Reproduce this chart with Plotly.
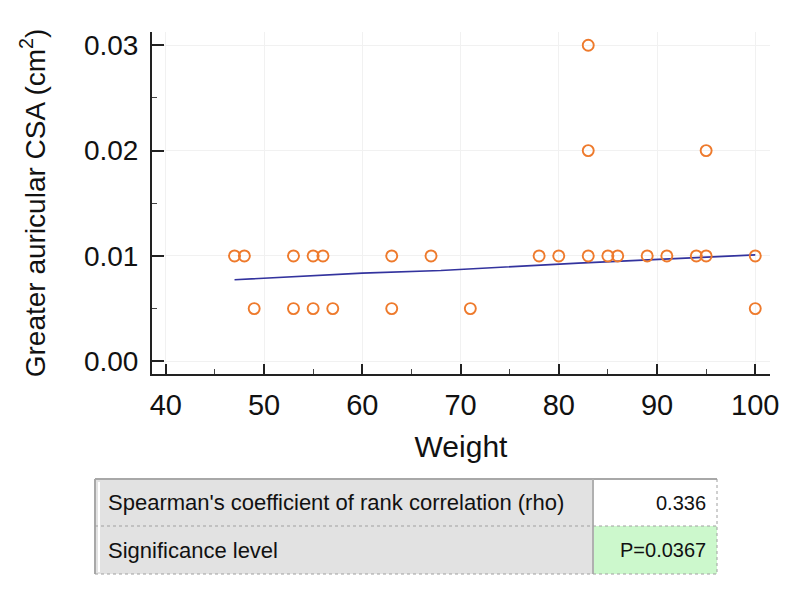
import plotly.graph_objects as go

# ---- data ----
weight_01 = [47, 48, 53, 55, 56, 63, 67, 78, 80, 85, 86, 89, 91, 94, 95, 100, 83]
csa_01 = [0.01] * 17
weight_005 = [49, 53, 55, 57, 63, 71, 100]
csa_005 = [0.005] * 7
weight_hi = [83, 83, 95]
csa_hi = [0.03, 0.02, 0.02]

weights = weight_01 + weight_005 + weight_hi
csa = csa_01 + csa_005 + csa_hi

trend_x = [47, 60, 68, 82, 100]
trend_y = [0.00774, 0.00837, 0.00861, 0.00932, 0.0101]

table_labels = ["Spearman's coefficient of rank correlation (rho)", "Significance level"]
table_values = ["0.336", "P=0.0367"]

FONT = "Liberation Sans, Arial, sans-serif"
W, H = 799, 591
OFF = 8  # page body margin
ML, MR, MT, MB = 152 - OFF, 29 + OFF, 32 - OFF, 217 + OFF
PW, PH = W - ML - MR, H - MT - MB


def px_x(p):
    return (p - OFF - ML) / PW


def px_y(p):
    return (H - MB - (p - OFF)) / PH


fig = go.Figure()
fig.add_trace(go.Scatter(
    x=trend_x, y=trend_y, mode="lines",
    line=dict(color="#33339e", width=1.6), showlegend=False, hoverinfo="skip"))
fig.add_trace(go.Scatter(
    x=weights, y=csa, mode="markers",
    marker=dict(symbol="circle-open", size=11, color="#ee7a2c",
                line=dict(width=1.9, color="#ee7a2c")),
    showlegend=False))

# ---- table below the chart ----
tx0, tx1, tcol = 95, 717, 593
ty0, ymid, ty1 = 479, 526, 574
shapes = []
grey = "#e2e2e2"
shapes.append(dict(type="rect", xref="paper", yref="paper",
                   x0=px_x(tx0), x1=px_x(tcol), y0=px_y(ty1), y1=px_y(ty0),
                   fillcolor=grey, line=dict(width=0), layer="below"))
shapes.append(dict(type="rect", xref="paper", yref="paper",
                   x0=px_x(tcol), x1=px_x(tx1), y0=px_y(ymid), y1=px_y(ty0),
                   fillcolor="#ffffff", line=dict(width=0), layer="below"))
shapes.append(dict(type="rect", xref="paper", yref="paper",
                   x0=px_x(tcol), x1=px_x(tx1), y0=px_y(ty1), y1=px_y(ymid),
                   fillcolor="#ccf8cc", line=dict(width=0), layer="below"))
# white inner left strip
shapes.append(dict(type="line", xref="paper", yref="paper",
                   x0=px_x(99), x1=px_x(99), y0=px_y(ty1 - 2), y1=px_y(ty0 + 3),
                   line=dict(color="#ffffff", width=2)))
# solid top and left borders
shapes.append(dict(type="line", xref="paper", yref="paper",
                   x0=px_x(tx0), x1=px_x(tx1), y0=px_y(ty0), y1=px_y(ty0),
                   line=dict(color="#a8a8a8", width=2)))
shapes.append(dict(type="line", xref="paper", yref="paper",
                   x0=px_x(tx0), x1=px_x(tx0), y0=px_y(ty0), y1=px_y(ty1),
                   line=dict(color="#a8a8a8", width=2)))
# column divider
shapes.append(dict(type="line", xref="paper", yref="paper",
                   x0=px_x(tcol), x1=px_x(tcol), y0=px_y(ty0), y1=px_y(ty1),
                   line=dict(color="#b0b0b0", width=2)))
# dotted borders
for (a, b, c, d) in [(tx0, ymid, tx1, ymid), (tx0, ty1, tx1, ty1), (tx1, ty0, tx1, ty1)]:
    shapes.append(dict(type="line", xref="paper", yref="paper",
                       x0=px_x(a), x1=px_x(c), y0=px_y(b), y1=px_y(d),
                       line=dict(color="#a0a0a0", width=1, dash="dot")))

annotations = []
row_centers = [(ty0 + ymid) / 2, (ymid + ty1) / 2]
for lab, val, rc in zip(table_labels, table_values, row_centers):
    annotations.append(dict(xref="paper", yref="paper", x=px_x(106), y=px_y(rc),
                            text=lab, showarrow=False, xanchor="left", yanchor="middle",
                            font=dict(family=FONT, size=22, color="#111")))
    annotations.append(dict(xref="paper", yref="paper", x=px_x(708), y=px_y(rc),
                            text=val, showarrow=False, xanchor="right", yanchor="middle",
                            font=dict(family=FONT, size=20, color="#111")))

fig.update_layout(
    width=W, height=H,
    margin=dict(l=ML, r=MR, t=MT, b=MB, autoexpand=False),
    paper_bgcolor="white", plot_bgcolor="white",
    font=dict(family=FONT, color="#111"),
    shapes=shapes, annotations=annotations,
    xaxis=dict(
        range=[38.6, 101.5], dtick=10, tick0=40,
        showline=True, linecolor="#222", linewidth=2,
        ticks="inside", ticklen=10, tickwidth=2, tickcolor="#222",
        minor=dict(ticks="inside", ticklen=5, dtick=5, tickcolor="#444", tickwidth=1, showgrid=False),
        showgrid=True, gridcolor="#f1f1f1", gridwidth=1, zeroline=False,
        tickfont=dict(size=29, family=FONT, color="#111"),
        ticklabelstandoff=4, automargin=False,
        title=dict(text="Weight", font=dict(size=30, family=FONT, color="#111"), standoff=16),
    ),
    yaxis=dict(
        range=[-0.00121, 0.03126], dtick=0.01, tick0=0, tickformat=".2f",
        showline=True, linecolor="#222", linewidth=2,
        ticks="inside", ticklen=12, tickwidth=2, tickcolor="#222",
        minor=dict(ticks="inside", ticklen=5, dtick=0.005, tickcolor="#444", tickwidth=1, showgrid=False),
        showgrid=True, gridcolor="#f1f1f1", gridwidth=1, zeroline=False,
        tickfont=dict(size=28, family=FONT, color="#111"),
        ticklabelstandoff=6, automargin=False,
        title=dict(text="Greater auricular CSA (cm<sup>2</sup>)",
                   font=dict(size=28, family=FONT, color="#111"), standoff=30),
    ),
)

fig.write_html("out.html")
